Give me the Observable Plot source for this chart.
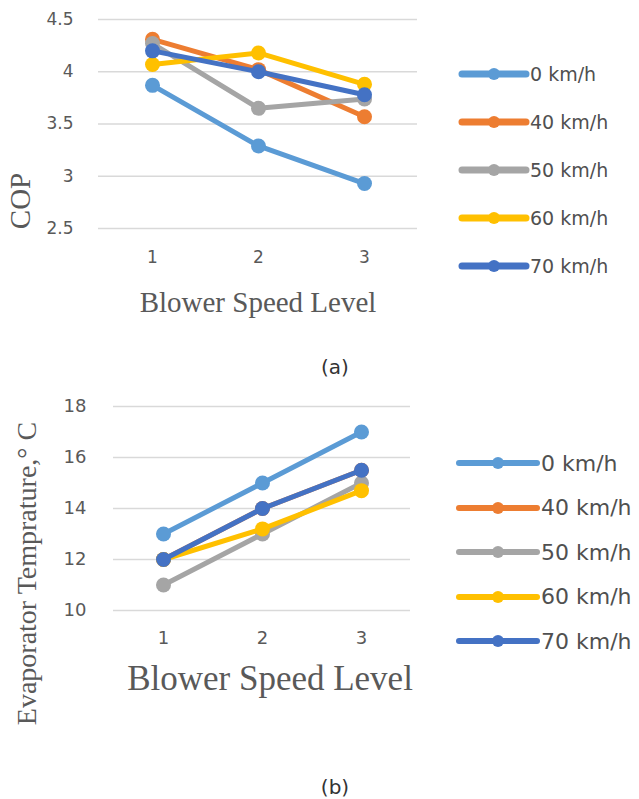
<!DOCTYPE html>
<html><head><meta charset="utf-8">
<script src="https://cdn.jsdelivr.net/npm/d3@7"></script>
<script src="https://cdn.jsdelivr.net/npm/@observablehq/plot@0.6"></script>
<style>
body{margin:0;background:#fff;width:639px;height:799px;position:relative;overflow:hidden;font-family:"DejaVu Sans",sans-serif}
.abs{position:absolute}
.legend .row{display:flex;align-items:center}
.legend span{color:#505050;white-space:nowrap}
.cap{position:absolute;font-size:20px;color:#333;transform:translate(-50%,-50%);font-family:"DejaVu Sans",sans-serif}
</style></head><body>
<div id="a" class="abs" style="left:0;top:0"></div>
<div id="b" class="abs" style="left:0;top:380px"></div>
<div id="la" class="abs legend"></div>
<div id="lb" class="abs legend"></div>
<div class="cap" style="left:335px;top:367px">(a)</div>
<div class="cap" style="left:335px;top:787px">(b)</div>
<script>
const levels = [1, 2, 3];
const series = ["0 km/h", "40 km/h", "50 km/h", "60 km/h", "70 km/h"];
const colors = ["#5B9BD5", "#ED7D31", "#A5A5A5", "#FFC000", "#4472C4"];
const copValues = [
  [3.87, 3.29, 2.93],
  [4.31, 4.02, 3.57],
  [4.27, 3.65, 3.74],
  [4.07, 4.18, 3.88],
  [4.20, 4.00, 3.78]
];
const tempValues = [
  [13, 15, 17],
  [12, 14, 15.5],
  [11, 13, 15],
  [12, 13.2, 14.7],
  [12, 14, 15.5]
];
const copTicks = [2.5, 3, 3.5, 4, 4.5];
const tempTicks = [10, 12, 14, 16, 18];
const xLabel = "Blower Speed Level";
const copLabel = "COP";
const tempLabel = "Evaporator Temprature,\u00b0 C";

function chart(values, ticks, yLabel, c) {
  const data = series.flatMap((s, i) => levels.map((l, j) => ({series: s, level: l, value: values[i][j]})));
  const seriesMarks = series.flatMap(s => {
    const d = data.filter(r => r.series === s);
    return [
      Plot.line(d, {x: "level", y: "value", stroke: "series", strokeWidth: 5}),
      Plot.dot(d, {x: "level", y: "value", fill: "series", r: 7.5})
    ];
  });
  return Plot.plot({
    width: c.width, height: c.height,
    marginLeft: c.ml, marginRight: 0, marginTop: c.mt, marginBottom: c.mb,
    x: {type: "point", domain: levels, padding: 0.5},
    y: {domain: [ticks[0], ticks[ticks.length - 1]]},
    color: {domain: series, range: colors},
    style: {fontFamily: "DejaVu Sans", background: "transparent", color: "#595959", overflow: "visible"},
    marks: [
      Plot.gridY(ticks, {stroke: "#d9d9d9", strokeOpacity: 1, strokeWidth: 1.5}),
      Plot.axisY(ticks, {tickSize: 0, tickPadding: c.typ, fontSize: c.tfs, label: null, tickFormat: d => String(d)}),
      Plot.axisX(levels, {tickSize: 0, tickPadding: c.txp, fontSize: c.tfs, label: null, tickFormat: d => String(d)}),
      ...seriesMarks,
      Plot.text([xLabel], {text: d => d, frameAnchor: "bottom", dx: c.xldx, dy: c.xldy, lineAnchor: "middle", textAnchor: "middle",
        fontSize: c.xlfs, fontFamily: "Liberation Serif", fill: "#595959"}),
      Plot.text([yLabel], {text: d => d, frameAnchor: "left", rotate: -90, dx: c.yldx, dy: c.yldy, lineAnchor: "middle", textAnchor: "middle",
        fontSize: c.ylfs, fontFamily: "Liberation Serif", fill: "#595959"})
    ]
  });
}

document.getElementById("a").append(chart(copValues, copTicks, copLabel, {
  width: 417, height: 330, ml: 98, mt: 19, mb: 102, typ: 25, txp: 22, tfs: 17,
  xldx: 0, xldy: 74, xlfs: 29, yldx: -78, yldy: 77, ylfs: 29
}));
document.getElementById("b").append(chart(tempValues, tempTicks, tempLabel, {
  width: 410, height: 380, ml: 113, mt: 26, mb: 150, typ: 27, txp: 21, tfs: 18,
  xldx: 8, xldy: 68, xlfs: 35, yldx: -86, yldy: 65, ylfs: 28
}));

function legend(el, c) {
  el.style.left = c.left + "px";
  el.style.top = (c.cy - c.rh / 2) + "px";
  series.forEach((s, i) => {
    const row = document.createElement("div");
    row.className = "row";
    row.style.height = c.rh + "px";
    row.innerHTML = `<svg width="${c.lw}" height="16"><line x1="4" x2="${c.lw - 4}" y1="8" y2="8" stroke="${colors[i]}" stroke-width="${c.sw}" stroke-linecap="round"/><circle cx="${c.lw / 2}" cy="8" r="6" fill="${colors[i]}"/></svg><span style="font-size:${c.fs}px">${s}</span>`;
    el.appendChild(row);
  });
}
legend(document.getElementById("la"), {left: 458, cy: 74, rh: 48, lw: 72, sw: 7, fs: 19});
legend(document.getElementById("lb"), {left: 455, cy: 463, rh: 44.5, lw: 86, sw: 6, fs: 22});
</script>
</body></html>
